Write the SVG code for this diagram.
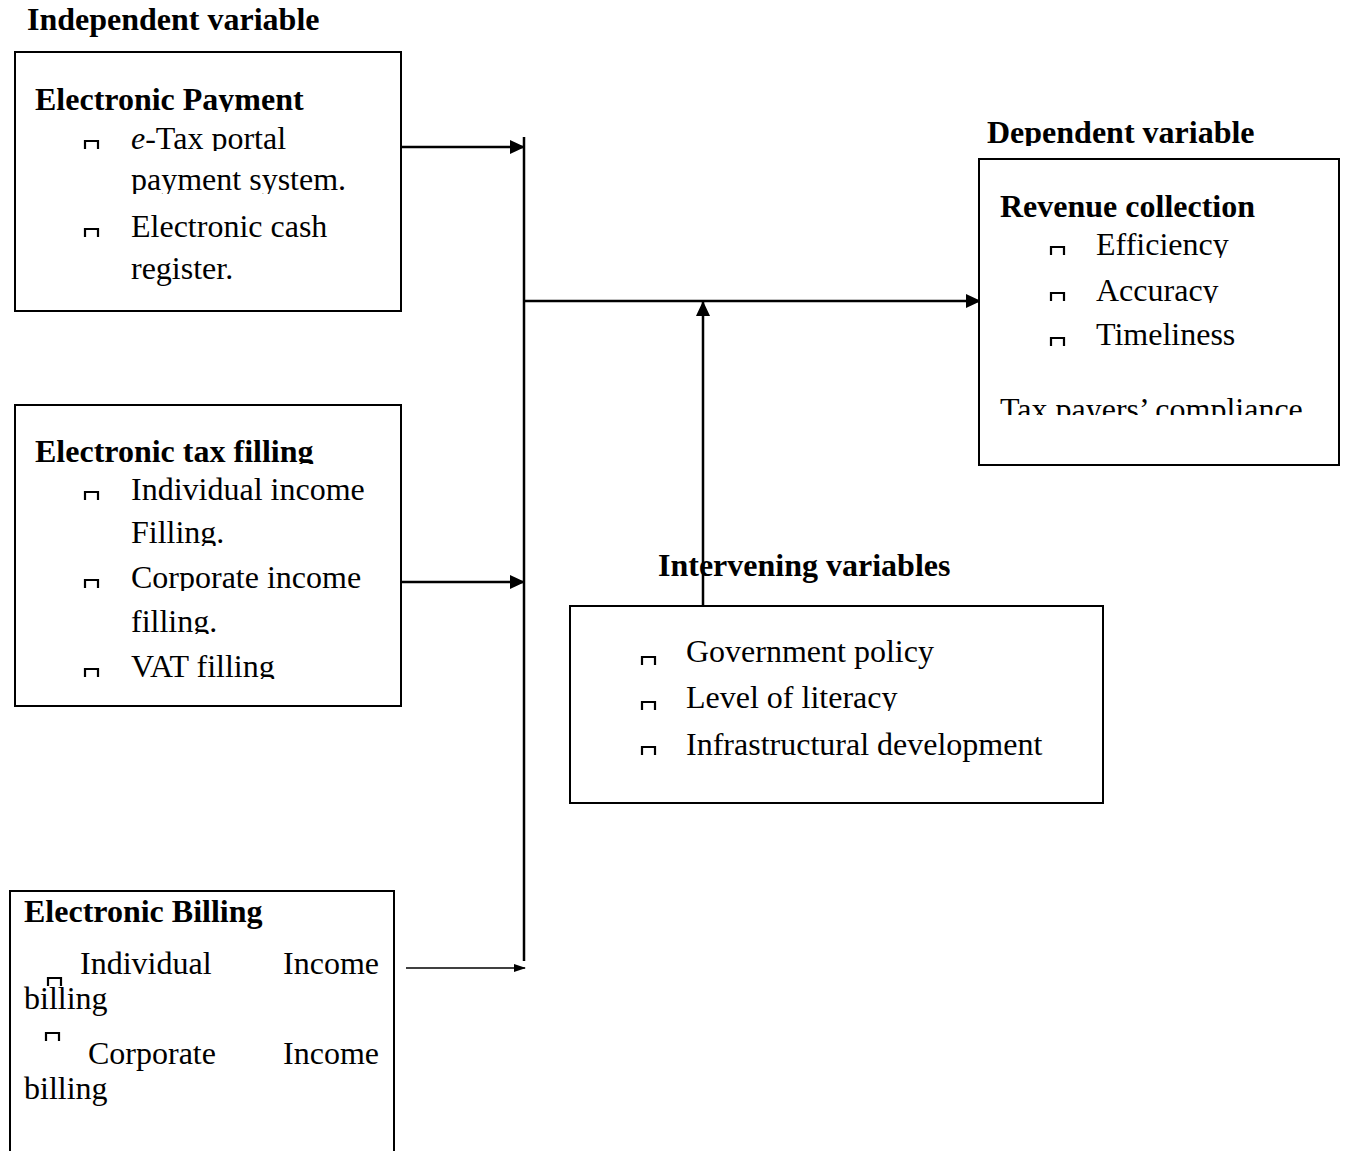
<svg xmlns="http://www.w3.org/2000/svg" width="1346" height="1151" viewBox="0 0 1346 1151">
<style>
text{font-family:"Liberation Serif","Times New Roman","DejaVu Serif",serif;font-size:32px;fill:#000}
.b{font-weight:bold}
.box{fill:#fff;stroke:#000;stroke-width:2}
.ln{stroke:#000;stroke-width:2.5;fill:none}
.thin{stroke:#000;stroke-width:1.5;fill:none}
.bul{fill:none;stroke:#000;stroke-width:2.2}
</style>
<defs>
<path id="bl" class="bul" d="M1 9 V1 H14 V9"/>
<marker id="ah" viewBox="0 0 15 14" refX="14" refY="7" markerWidth="15" markerHeight="14" markerUnits="userSpaceOnUse" orient="auto"><path d="M0 0 L15 7 L0 14 Z" fill="#000"/></marker>
<marker id="ahs" viewBox="0 0 12 8" refX="11" refY="4" markerWidth="12" markerHeight="8" markerUnits="userSpaceOnUse" orient="auto"><path d="M0 0 L12 4 L0 8 Z" fill="#000"/></marker>
<clipPath id="c112" clipPathUnits="userSpaceOnUse"><rect x="0" y="60" width="1346" height="52"/></clipPath>
<clipPath id="c151" clipPathUnits="userSpaceOnUse"><rect x="0" y="115" width="1346" height="36"/></clipPath>
<clipPath id="c194" clipPathUnits="userSpaceOnUse"><rect x="0" y="155" width="1346" height="39"/></clipPath>
<clipPath id="c464" clipPathUnits="userSpaceOnUse"><rect x="0" y="425" width="1346" height="39"/></clipPath>
<clipPath id="c546" clipPathUnits="userSpaceOnUse"><rect x="0" y="505" width="1346" height="41"/></clipPath>
<clipPath id="c591" clipPathUnits="userSpaceOnUse"><rect x="0" y="550" width="1346" height="41"/></clipPath>
<clipPath id="c634" clipPathUnits="userSpaceOnUse"><rect x="0" y="595" width="1346" height="39"/></clipPath>
<clipPath id="c679" clipPathUnits="userSpaceOnUse"><rect x="0" y="640" width="1346" height="39"/></clipPath>
<clipPath id="c711" clipPathUnits="userSpaceOnUse"><rect x="0" y="672" width="1346" height="39"/></clipPath>
<clipPath id="c146" clipPathUnits="userSpaceOnUse"><rect x="0" y="105" width="1346" height="41"/></clipPath>
<clipPath id="c258" clipPathUnits="userSpaceOnUse"><rect x="0" y="222" width="1346" height="36"/></clipPath>
<clipPath id="c303" clipPathUnits="userSpaceOnUse"><rect x="0" y="265" width="1346" height="38"/></clipPath>
<clipPath id="c415" clipPathUnits="userSpaceOnUse"><rect x="0" y="380" width="1346" height="35"/></clipPath>
</defs>

<text class="b" x="27" y="30">Independent variable</text>

<g id="connectors">
<line class="ln" x1="524" y1="137" x2="524" y2="961"/>
<line class="ln" x1="401" y1="147" x2="524" y2="147" marker-end="url(#ah)"/>
<line class="ln" x1="400" y1="582" x2="524" y2="582" marker-end="url(#ah)"/>
<line class="thin" x1="406" y1="968" x2="525" y2="968" marker-end="url(#ahs)"/>
<line class="ln" x1="524" y1="301" x2="980" y2="301" marker-end="url(#ah)"/>
<line class="ln" x1="703" y1="606" x2="703" y2="302" marker-end="url(#ah)"/>
</g>

<g id="electronic-payment">
<rect class="box" x="15" y="52" width="386" height="259"/>
<text class="b" x="35" y="110" clip-path="url(#c112)">Electronic Payment</text>
<use href="#bl" x="84" y="140"/>
<text x="131" y="149" clip-path="url(#c151)"><tspan font-style="italic">e</tspan>-Tax portal</text>
<text x="131" y="190" clip-path="url(#c194)">payment system.</text>
<use href="#bl" x="84" y="228"/>
<text x="131" y="237">Electronic cash</text>
<text x="131" y="279">register.</text>
</g>

<g id="electronic-tax-filling">
<rect class="box" x="15" y="405" width="386" height="301"/>
<text class="b" x="35" y="462" clip-path="url(#c464)">Electronic tax filling</text>
<use href="#bl" x="84" y="491"/>
<text x="131" y="500">Individual income</text>
<text x="131" y="543" clip-path="url(#c546)">Filling.</text>
<use href="#bl" x="84" y="579"/>
<text x="131" y="588" clip-path="url(#c591)">Corporate income</text>
<text x="131" y="632" clip-path="url(#c634)">filling.</text>
<use href="#bl" x="84" y="668"/>
<text x="131" y="677" clip-path="url(#c679)">VAT filling</text>
</g>

<g id="electronic-billing">
<rect class="box" x="10" y="891" width="384" height="270"/>
<text class="b" x="24" y="922">Electronic Billing</text>
<text x="80" y="974">Individual</text>
<text x="379" y="974" text-anchor="end">Income</text>
<use href="#bl" x="47" y="977"/>
<text x="24" y="1009">billing</text>
<use href="#bl" x="45" y="1032"/>
<text x="88" y="1064">Corporate</text>
<text x="379" y="1064" text-anchor="end">Income</text>
<text x="24" y="1099">billing</text>
</g>

<g id="intervening-variables">
<text class="b" x="658" y="576">Intervening variables</text>
<rect class="box" x="570" y="606" width="533" height="197"/>
<use href="#bl" x="641" y="656"/>
<text x="686" y="662">Government policy</text>
<use href="#bl" x="641" y="701"/>
<text x="686" y="708" clip-path="url(#c711)">Level of literacy</text>
<use href="#bl" x="641" y="746"/>
<text x="686" y="755">Infrastructural development</text>
</g>

<g id="dependent-variable">
<text class="b" x="987" y="143" clip-path="url(#c146)">Dependent variable</text>
<rect class="box" x="979" y="159" width="360" height="306"/>
<text class="b" x="1000" y="217">Revenue collection</text>
<use href="#bl" x="1050" y="246"/>
<text x="1096" y="255" clip-path="url(#c258)">Efficiency</text>
<use href="#bl" x="1050" y="292"/>
<text x="1096" y="301" clip-path="url(#c303)">Accuracy</text>
<use href="#bl" x="1050" y="337"/>
<text x="1096" y="345">Timeliness</text>
<text x="1000" y="420" clip-path="url(#c415)">Tax payers’ compliance</text>
</g>
</svg>
